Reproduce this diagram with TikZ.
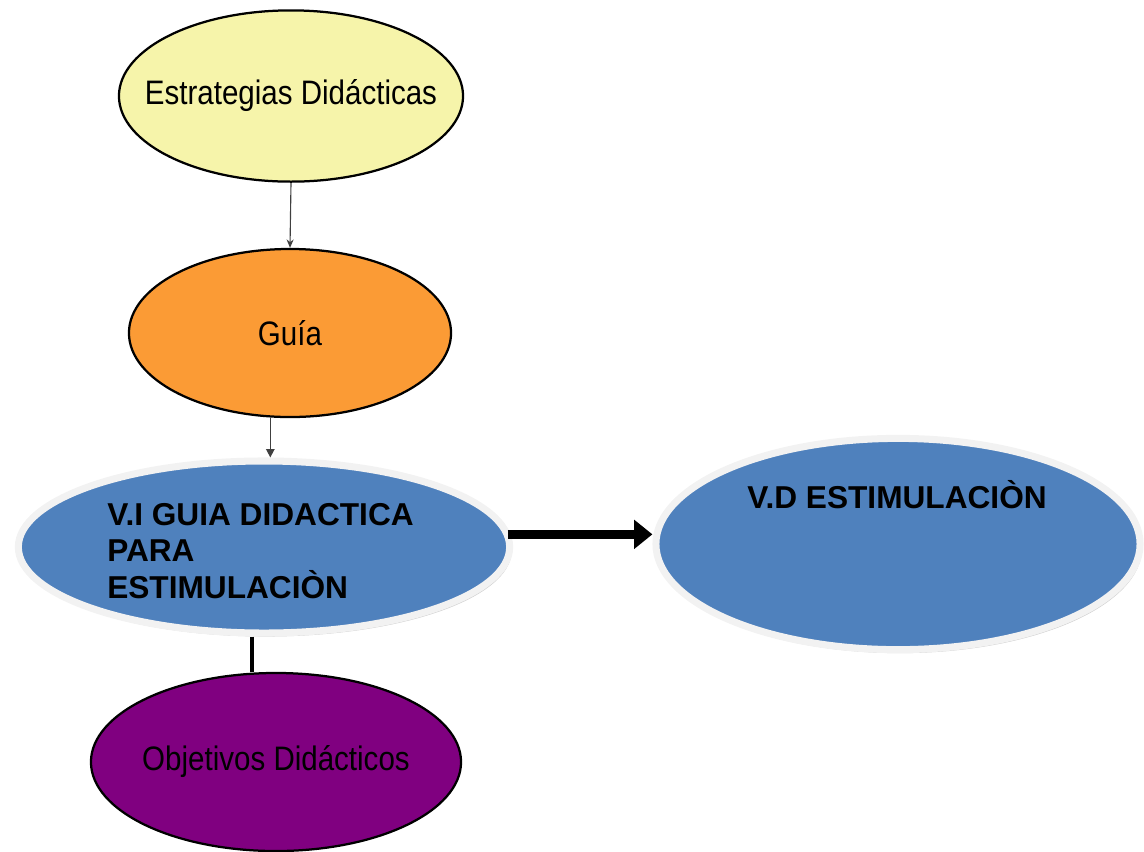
\documentclass[tikz,border=0pt]{standalone}
\usepackage{fontspec}
\setmainfont{Liberation Sans}
\usetikzlibrary{shapes.geometric,arrows.meta,shadows}

\definecolor{ovyellow}{HTML}{F6F4AA}
\definecolor{ovorange}{HTML}{FB9B35}
\definecolor{ovblue}{HTML}{4F81BD}
\definecolor{ovpurple}{HTML}{800080}
\definecolor{ovrim}{HTML}{F2F2F2}

\begin{document}
\begin{tikzpicture}[
    x=0.025cm, y=-0.025cm,
    oval/.style={ellipse, draw=black, line width=1.6pt, inner sep=0pt},
    bigoval/.style={ellipse, draw=ovrim, fill=ovblue, line width=5pt, inner sep=0pt,
        drop shadow={shadow xshift=1.5pt, shadow yshift=-2.5pt, fill=gray!75}},
    lbl/.style={inner sep=0pt, font=\fontsize{21}{24}\selectfont},
    caps/.style={inner sep=0pt, align=left, font=\bfseries\fontsize{22.5}{26}\selectfont},
    arrow/.style={-{Stealth[length=6pt,width=5pt]}, line width=0.8pt, draw=black!75},
    bigarrow/.style={-{Triangle[length=13pt,width=20pt]}, line width=6pt}
]
\useasboundingbox (0,0) rectangle (1144,851);

% ovals
\node[oval, fill=ovyellow, minimum width=8.6cm, minimum height=4.28cm] (est) at (291,96) {};
\node[oval, fill=ovorange, minimum width=8.05cm, minimum height=4.2cm] (guia) at (290,333) {};
\node[bigoval, minimum width=12.28cm, minimum height=4.3cm] (vi) at (264,547) {};
\node[bigoval, minimum width=12.1cm, minimum height=5.28cm] (vd) at (898,544) {};
\node[oval, fill=ovpurple, minimum width=9.25cm, minimum height=4.45cm] (obj) at (276,762) {};

% texts
\node[lbl] (est-text) at (est) {\scalebox{1}[1.15]{Estrategias Didácticas}};
\node[lbl] (guia-text) at (guia) {\scalebox{1}[1.15]{Guía}};
\node[lbl] (obj-text) at (obj) {\scalebox{1}[1.15]{Objetivos Didácticos}};
\node[caps, anchor=north west] (vi-text) at (107,503) {V.I GUIA DIDACTICA\\PARA\\ESTIMULACIÒN};
\node[caps, anchor=base west] (vd-text) at (747,508) {V.D ESTIMULACIÒN};

% connectors
\draw[arrow] (est.south) -- (guia.north);
\draw[arrow, -{Triangle[length=6pt,width=6pt]}, line width=1.1pt] ([xshift=-14pt]guia.south) -- ([xshift=-14pt]guia.south |- vi.north);
\draw[bigarrow] ([xshift=-4pt,yshift=9pt]vi.east) -- ([yshift=9pt]vi.east -| vd.west);
\draw[line width=3pt] ([xshift=-8.5pt]vi.south) -- ([xshift=-8.5pt]vi.south |- obj.north);

\end{tikzpicture}
\end{document}
